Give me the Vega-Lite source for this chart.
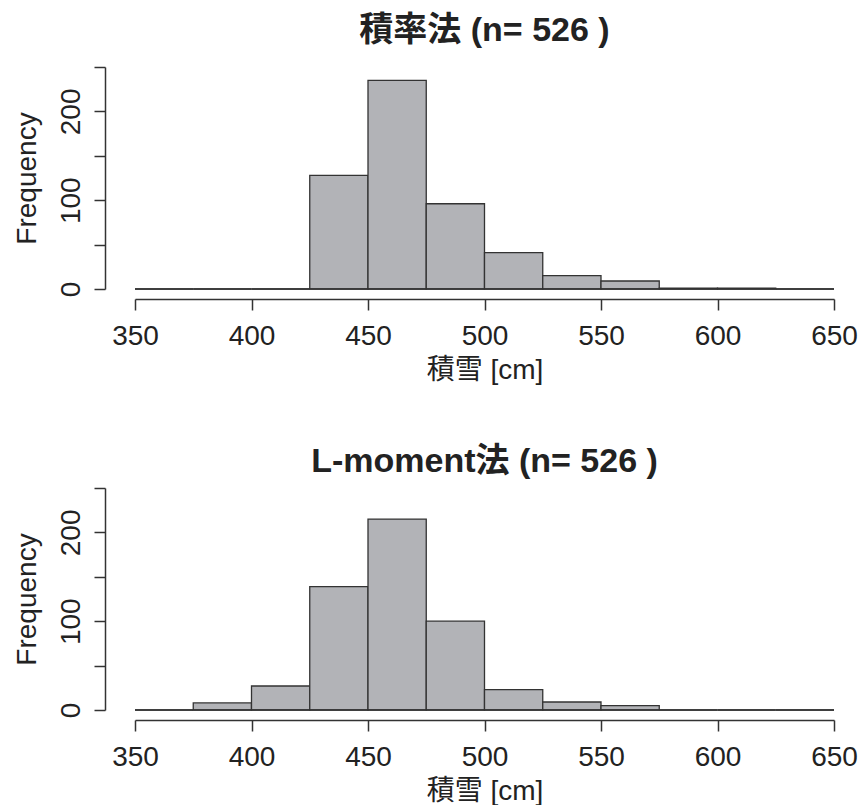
{
  "$schema": "https://vega.github.io/schema/vega-lite/v6.json",
  "padding": {"left": 13, "top": 14, "right": 4, "bottom": 0},
  "background": "white",
  "spacing": 61,
  "config": {
    "view": {"stroke": null},
    "font": "Liberation Sans, Noto Sans CJK JP",
    "title": {"fontSize": 34, "fontWeight": "bold", "color": "#222", "font": "Liberation Sans, Noto Sans CJK JP", "offset": 18, "anchor": "middle"},
    "axisX": {
      "offset": 10, "tickSize": 11, "grid": false,
      "domainColor": "#333", "tickColor": "#333", "domainWidth": 1.5, "tickWidth": 1.5,
      "labelFontSize": 28, "labelColor": "#222", "labelPadding": 12, "labelFlush": false,
      "titleFontSize": 28, "titleFontWeight": "normal", "titleColor": "#222", "titlePadding": 6
    },
    "axisY": {
      "offset": 30, "tickSize": 11, "grid": false,
      "domainColor": "#333", "tickColor": "#333", "domainWidth": 1.5, "tickWidth": 1.5,
      "labelFontSize": 28, "labelColor": "#222", "labelAngle": -90, "labelAlign": "center", "labelBaseline": "bottom", "labelPadding": 9, "labelFlush": false,
      "titleFontSize": 28, "titleFontWeight": "normal", "titleColor": "#222", "titlePadding": 16
    }
  },
  "datasets": {
    "moment": [
      {"bin_start": 350, "bin_end": 375, "count": 0},
      {"bin_start": 375, "bin_end": 400, "count": 0},
      {"bin_start": 400, "bin_end": 425, "count": 0},
      {"bin_start": 425, "bin_end": 450, "count": 128},
      {"bin_start": 450, "bin_end": 475, "count": 235},
      {"bin_start": 475, "bin_end": 500, "count": 96},
      {"bin_start": 500, "bin_end": 525, "count": 41},
      {"bin_start": 525, "bin_end": 550, "count": 15},
      {"bin_start": 550, "bin_end": 575, "count": 9},
      {"bin_start": 575, "bin_end": 600, "count": 1},
      {"bin_start": 600, "bin_end": 625, "count": 1},
      {"bin_start": 625, "bin_end": 650, "count": 0}
    ],
    "lmoment": [
      {"bin_start": 350, "bin_end": 375, "count": 0},
      {"bin_start": 375, "bin_end": 400, "count": 8},
      {"bin_start": 400, "bin_end": 425, "count": 27},
      {"bin_start": 425, "bin_end": 450, "count": 139},
      {"bin_start": 450, "bin_end": 475, "count": 215},
      {"bin_start": 475, "bin_end": 500, "count": 100},
      {"bin_start": 500, "bin_end": 525, "count": 23},
      {"bin_start": 525, "bin_end": 550, "count": 9},
      {"bin_start": 550, "bin_end": 575, "count": 5},
      {"bin_start": 575, "bin_end": 600, "count": 0},
      {"bin_start": 600, "bin_end": 625, "count": 0},
      {"bin_start": 625, "bin_end": 650, "count": 0}
    ]
  },
  "vconcat": [
    {
      "title": {"text": "積率法 (n= 526 )", "offset": 18},
      "width": 699, "height": 222,
      "data": {"name": "moment"},
      "layer": [
        {
          "mark": {"type": "rect", "fill": "#b2b3b7", "stroke": "#333", "strokeWidth": 1.3},
          "encoding": {
            "x": {"field": "bin_start", "type": "quantitative", "scale": {"domain": [350, 650], "nice": false, "zero": false}, "title": "積雪 [cm]", "axis": {"values": [350, 400, 450, 500, 550, 600, 650]}},
            "x2": {"field": "bin_end"},
            "y": {"field": "count", "type": "quantitative", "scale": {"domain": [0, 250], "nice": false}, "title": "Frequency", "axis": {"values": [0, 50, 100, 150, 200, 250], "labelExpr": "datum.value % 100 == 0 ? datum.label : ''"}},
            "y2": {"datum": 0}
          }
        },
        {
          "mark": {"type": "rule", "stroke": "#333", "strokeWidth": 1.5},
          "encoding": {
            "x": {"field": "bin_start", "type": "quantitative"},
            "x2": {"field": "bin_end"},
            "y": {"datum": 0}
          }
        }
      ]
    },
    {
      "title": {"text": "L-moment法 (n= 526 )", "offset": 8},
      "width": 699, "height": 222,
      "data": {"name": "lmoment"},
      "layer": [
        {
          "mark": {"type": "rect", "fill": "#b2b3b7", "stroke": "#333", "strokeWidth": 1.3},
          "encoding": {
            "x": {"field": "bin_start", "type": "quantitative", "scale": {"domain": [350, 650], "nice": false, "zero": false}, "title": "積雪 [cm]", "axis": {"values": [350, 400, 450, 500, 550, 600, 650]}},
            "x2": {"field": "bin_end"},
            "y": {"field": "count", "type": "quantitative", "scale": {"domain": [0, 250], "nice": false}, "title": "Frequency", "axis": {"values": [0, 50, 100, 150, 200, 250], "labelExpr": "datum.value % 100 == 0 ? datum.label : ''"}},
            "y2": {"datum": 0}
          }
        },
        {
          "mark": {"type": "rule", "stroke": "#333", "strokeWidth": 1.5},
          "encoding": {
            "x": {"field": "bin_start", "type": "quantitative"},
            "x2": {"field": "bin_end"},
            "y": {"datum": 0}
          }
        }
      ]
    }
  ]
}
